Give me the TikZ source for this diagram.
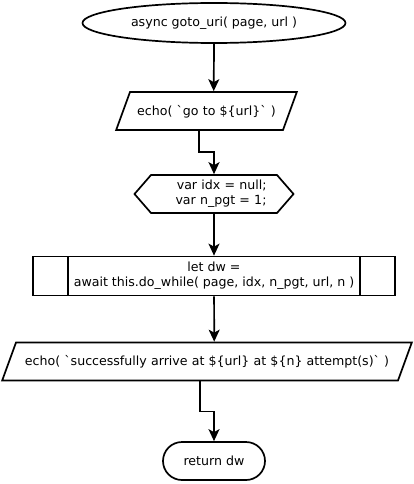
\documentclass[tikz,border=0pt]{standalone}
\usepackage{fontspec}
\setmainfont{DejaVu Sans}
\usepackage{tikz}
\usetikzlibrary{
    shapes.geometric,
    shapes.misc,
    shapes.symbols,
    arrows.meta,
    positioning
}
\tikzset{
    % Base style for all nodes
    chart base/.style={
        font=\fontsize{12.6}{15}\selectfont,
        align=center,
        draw=black,
        line width=1.7pt,
        inner sep=0pt,
    },
    % Start node - ellipse
    startstop/.style={
        chart base,
        ellipse,
        minimum width=263pt,
        minimum height=40pt,
    },
    % IO nodes - parallelogram, height fixed by the text box
    io/.style={
        chart base,
        trapezium,
        trapezium left angle=70,
        trapezium right angle=110,
        text height=23.4pt,
        text depth=14.6pt,
    },
    % Preparation node - hexagon
    prep/.style={
        chart base,
        signal,
        signal to=east and west,
        signal pointer angle=98,
        minimum width=159pt,
        minimum height=38pt,
        text width=105pt,
        align=right,
    },
    % Subroutine node - box with double sides
    subproc/.style={
        chart base,
        rectangle,
        minimum width=362pt,
        minimum height=39pt,
        path picture={
            \draw [line width=1.7pt]
                ([xshift=35pt]path picture bounding box.north west) --
                ([xshift=35pt]path picture bounding box.south west)
                ([xshift=-35pt]path picture bounding box.north east) --
                ([xshift=-35pt]path picture bounding box.south east);
        },
    },
    % End node - rounded box
    terminal/.style={
        chart base,
        rounded rectangle,
        minimum width=102pt,
        minimum height=38pt,
    },
    % Arrow style
    arrow/.style={
        -{Stealth[length=12pt, width=11pt, inset=3pt]},
        line width=1.7pt,
    },
}

\begin{document}
\begin{tikzpicture}
    \useasboundingbox (0,0) rectangle (414pt,-484pt);

    \node (start) [startstop] at (214pt,-23pt) {async goto\_uri( page, url )};
    \node (echo) [io, node distance=88pt, below of=start, xshift=-7.5pt, text width=153pt] {echo( \textasciigrave go to \$\{url\}\textasciigrave{} )};
    \node (vars) [prep, node distance=83pt, below of=echo, xshift=7.5pt] {var idx = null;\\var n\_pgt = 1;};
    \node (dowhile) [subproc, node distance=82pt, below of=vars] {let dw =\\await this.do\_while( page, idx, n\_pgt, url, n )};
    \node (done) [io, node distance=85.5pt, below of=dowhile, xshift=-7pt, text width=382pt] {echo( \textasciigrave successfully arrive at \$\{url\} at \$\{n\} attempt(s)\textasciigrave{} )};
    \node (ret) [terminal, node distance=99.5pt, below of=done, xshift=7pt] {return dw};

    \draw [arrow] (start.south) -- (echo.top side);
    \draw [arrow] (echo.bottom side) -- ++(0,-21pt) -| (vars.north);
    \draw [arrow] (vars) -- (dowhile);
    \draw [arrow] (dowhile) -- (done.top side);
    \draw [arrow] (done.bottom side) -- ++(0,-30pt) -| (ret.north);
\end{tikzpicture}
\end{document}
